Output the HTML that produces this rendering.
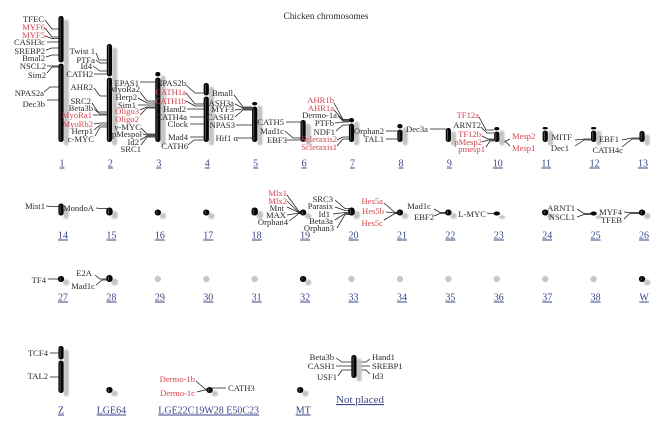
<!DOCTYPE html>
<html>
<head>
<meta charset="utf-8">
<title>Chicken chromosomes</title>
<style>
html,body{margin:0;padding:0;background:#fff;width:664px;height:425px;overflow:hidden}
svg{display:block;filter:blur(.3px)}
text{font-family:"Liberation Serif",serif}
</style>
</head>
<body>
<svg id="chart" width="664" height="425" viewBox="0 0 664 425" xmlns="http://www.w3.org/2000/svg">
<defs><filter id="soft" x="-100%" y="-100%" width="300%" height="300%"><feGaussianBlur stdDeviation="0.8"/></filter></defs>
<text x="326" y="19" text-anchor="middle" font-size="9.3" fill="#2a2a2a">Chicken chromosomes</text>
<text x="360" y="403" text-anchor="middle" font-size="11" fill="#3b4688" text-decoration="underline">Not placed</text>
</svg>
<script>
// Chromosome data (length and centromere in map units, from top of chromosome; 0 length = no mapped body)
var chromNames = ['1','2','3','4','5','6','7','8','9','10','11','12','13','14','15','16','17','18','19','20','21','22','23','24','25','26','27','28','29','30','31','32','33','34','35','36','37','38','W','Z','LGE64','LGE22C19W28 E50C23','MT','Not placed'];
var chromLength = [252,196,140,118,80,44,48,36,28,30,30,30,22,24,16,12,12,16,12,16,12,12,8,12,8,12,12,14,0,0,0,12,0,0,0,0,0,0,12,94,12,12,12,46];
var chromCentromere = [94,66,10,26,8,0,10,10,0,8,6,6,0,0,0,0,0,0,0,0,0,0,0,0,0,0,0,0,0,0,0,0,0,0,0,0,0,0,0,28,0,0,0,0];

// Gene data: name, chromosome, map position from top of chromosome
var geneNames = ['TFEC','MYF6','MYF5','CASH3c','SREBP2','Bmal2','NSCL2','Sim2','NPAS2a','Dec3b',
 'Twist 1','PTFa','Id4','CATH2','AHR2','SRC2','Beta3b','MyoRa1','MyoRb2','Herp1','c-MYC',
 'EPAS1','MyoRa2','Herp2','Sim1','Oligo3','Oligo2','v-MYC','pMespol','Id2','SRC1',
 'NPAS2b','CATH1a','CATH1b','Hand2','CATH4a','Clock','Mad4','CATH6',
 'Bmall','CASH3a','MYF3','CASH2','NPAS3','Hif1 α',
 'CATH5','Mad1c','EBF3',
 'AHR1b','AHR1a','Dermo-1a','PTFb','NDF1','Scleraxis2','Scleraxis1',
 'Orphan2','TAL1','Dec3a',
 'TF12a','ARNT2','TF12b','pMesp2','pmesp1','Mesp2','Mesp1',
 'MITF','Dec1','EBF1','CATH4c','Mist1','MondoA',
 'Mlx1','Mlx2','Mnt','MAX','Orphan4',
 'SRC3','Parasix','Id1','Beta3a','Orphan3',
 'Hes5a','Hes5b','Hes5c','Mad1c','EBF2','L-MYC','ARNT1','NSCL1','MYF4','TFEB',
 'TF4','E2A','Mad1c','TCF4','TAL2','Dermo-1b','Dermo-1c','CATH3',
 'Beta3b','CASH1','USF1','Hand1','SREBP1','Id3'];
var geneChrom = ['1','1','1','1','1','1','1','1','1','1',
 '2','2','2','2','2','2','2','2','2','2','2',
 '3','3','3','3','3','3','3','3','3','3',
 '4','4','4','4','4','4','4','4',
 '5','5','5','5','5','5',
 '6','6','6',
 '7','7','7','7','7','7','7',
 '8','8','9',
 '10','10','10','10','10','10','10',
 '12','12','13','13','14','15',
 '19','19','19','19','19',
 '20','20','20','20','20',
 '21','21','21','22','22','23','25','25','26','26',
 '27','28','28','Z','Z','LGE22C19W28 E50C23','LGE22C19W28 E50C23','LGE22C19W28 E50C23',
 'Not placed','Not placed','Not placed','Not placed','Not placed','Not placed'];
var genePosition = [26,42,45,52,64,78,100,102,142,168,
 32,38,54,60,104,136,140,142,158,162,166,
 20,58,62,66,70,72,124,126,128,130,
 20,42,46,52,68,82,108,114,
 10,12,14,16,46,72,
 4,36,40,
 3,4,6,8,14,38,42,
 14,30,2,
 6,12,24,26,28,28,30,
 24,26,14,16,6,2,
 4,6,6,7,8,
 2,6,10,12,14,
 6,7,8,6,8,4,4,6,6,8,
 6,8,10,14,62,4,6,2,
 14,22,30,14,22,30];
var highlightedGenes = ['MYF6','MYF5','MyoRa1','MyoRb2','Oligo3','Oligo2','CATH1a','CATH1b','AHR1b','AHR1a','Scleraxis2','Scleraxis1','TF12a','TF12b','pMesp2','pmesp1','Mesp2','Mesp1','Mlx1','Mlx2','Hes5a','Hes5b','Hes5c','Dermo-1b','Dermo-1c'];

// Annotation placement (separate from the data): label x, label y, anchor, leader start x, leader start y, leader elbow x
var labelPlacement = [
 [44,19,'e',45,20,52],[45,27,'e',45,28,52],[45,35,'e',45,36,52],[45,42,'e',47,42,52],[45,51,'e',46,50,52],[45,58,'e',46,57,52],[46,66,'e',47,66,52],[46,75,'e',47,73,52],[44,93,'e',44,92,50],[45,104,'e',47,100,52],
 [95,51,'e',96,53,99],[95,60,'e',96,60,100],[92,66,'e',93,66,100],[93,74,'e',94,74,100],[93,87,'e',94,88,100],[91,101,'e',92,103,98],[93,108,'e',94,109,100],[92,115,'e',93,115,100],[93,124,'e',94,124,100],[93,131,'e',94,130,100],[94,139,'e',95,136,100],
 [139,83,'e',140,82,147],[140,89,'e',140,92,147],[137,97,'e',138,98,147],[136,105,'e',138,105,147],[139,111,'e',140,110,147],[139,119,'e',140,115,147],[141,127,'e',141,128,147],[142,134,'e',143,134,147],[139,142,'e',140,140,147],[141,149,'e',141,145,147],
 [186,83,'e',186,85,195],[186,92,'e',186,93,195],[186,101,'e',186,101,195],[186,109,'e',187,109,195],[187,117,'e',190,117,195],[188,124,'e',190,124,195],[188,137,'e',190,137,195],[188,146,'e',188,145,194],
 [233,93,'e',234,95,243],[234,103,'e',235,104,243],[234,109,'e',235,110,243],[234,117,'e',235,117,243],[235,125,'e',236,125,243],[238,138,'e',238,138,243],
 [284,122,'e',286,122,293],[284,131,'e',285,131,293],[287,140,'e',287,140,293],
 [334,100,'e',334,103,343],[334,108,'e',334,110,343],[337,115,'e',338,116,343],[334,123,'e',335,123,343],[335,132,'e',336,131,343],[337,139,'e',337,140,343],[337,147,'e',337,146,343],
 [384,131,'e',386,131,390],[384,139,'e',386,139,390],[428,129,'e',430,129,436],
 [479,115,'e',479,117,486],[481,125,'e',481,127,487],[481,134,'e',482,136,488],[482,142,'e',482,142,488],[485,149,'e',486,147,490],
 [512,136,'s',510,139,506],[512,148,'s',510,146,506],
 [572,137,'e',575,140,585],[569,148,'e',575,146,584],[619,139,'e',622,140,632],[623,150,'e',622,147,632],
 [45,206,'e',46,206,52],[94,208,'e',96,208,100],
 [287,193,'e',287,195,299],[287,201,'e',287,201,299],[284,208,'e',287,207,299],[286,215,'e',287,215,299],[288,222,'e',289,221,299],
 [333,199,'e',335,200,345],[333,206,'e',335,207,345],[330,214,'e',333,214,345],[333,221,'e',335,220,345],[334,228,'e',337,228,345],
 [383,201,'e',384,203,395],[384,211,'e',386,212,395],[383,223,'e',384,220,395],
 [431,206,'e',434,209,440],[434,217,'e',434,216,440],[486,214,'e',487,213,490],[575,208,'e',577,209,584],[575,217,'e',577,217,584],[622,212,'e',624,212,630],[622,220,'e',624,219,630],
 [46,280,'e',48,279,52],[92,273,'e',95,275,100],[95,286,'e',96,285,102],[48,353,'e',50,353,54],[48,376,'e',50,377,54],
 [195,379,'e',196,381,205],[195,393,'e',197,392,205],[228,388,'s',226,388,220],
 [334,357,'e',336,358,342],[335,366,'e',336,366,342],[337,377,'e',338,376,342],[372,357,'s',370,359,366],[372,366,'s',370,366,366],[372,376,'s',370,374,366]
];

// Axis functions
var SVGNS = 'http://www.w3.org/2000/svg';
var svg = document.getElementById('chart');
var UNIT = 0.5;
var colStep = 48.42, colStart = 61;
var rowBase = [142, 215.5, 282, 393];
var rowTitleY = [166.5, 238.5, 300.5, 413.5];
function chromIndex(name){ return chromNames.indexOf(name); }
function chromRow(i){ return i < 13 ? 0 : i < 26 ? 1 : i < 39 ? 2 : 3; }
function chromX(i){
  if (i < 39) return colStart + (i % 13) * colStep;
  var lastRowCols = [0, 1, 3.07, 4.94, 6.05];
  return colStart + lastRowCols[i - 39] * colStep;
}
function chromBase(i){ return i === 43 ? 378 : rowBase[chromRow(i)]; }
function chromTop(i){ return chromBase(i) - chromLength[i] * UNIT; }
function mapY(i, pos){ return chromTop(i) + pos * UNIT; }
function make(tag, attrs, parent){
  var el = document.createElementNS(SVGNS, tag);
  for (var k in attrs) el.setAttribute(k, attrs[k]);
  (parent || svg).appendChild(el);
  return el;
}

// Layers: leaders under chromosomes, labels above them
var leaderLayer = make('g', {});


var chromLayer = make('g', {});


var labelLayer = make('g', {});



// Gene labels and leader lines
geneNames.forEach(function(name, g){
  var c = chromIndex(geneChrom[g]);
  var p = labelPlacement[g];
  var x = chromX(c);
  var y = mapY(c, genePosition[g]);
  var edge = p[3] < x ? x - 2.5 : x + 2.5;
  var isRed = highlightedGenes.indexOf(name) >= 0;
  var line = make('polyline', {points: p[3]+','+p[4]+' '+p[5]+','+y+' '+edge+','+y, fill:'none', stroke:'#1c1c1c', 'stroke-width':'0.75'}, leaderLayer);
  
  
  var t = make('text', {x:p[0], y:p[1]+2.8, 'font-size':'8.6', fill:isRed ? '#d3454f' : '#2b2b2b', 'text-anchor':p[2]==='e' ? 'end' : 'start'}, labelLayer);
  t.textContent = name;
  
  
});

// Chromosomes
chromNames.forEach(function(name, i){
  var x = chromX(i), base = chromBase(i), top = chromTop(i), len = chromLength[i];
  if (name !== 'Not placed') {
    var title = make('text', {x:x + (i < 13 ? 1 : i < 39 ? 2 : i === 39 ? 0 : i === 40 ? 2 : i === 42 ? 3 : -1), y:rowTitleY[chromRow(i)], 'text-anchor':'middle', 'font-size':'10', fill:'#3b4688', 'text-decoration':'underline'}, labelLayer);
    title.textContent = name;
    
    
  }
  var g = make('g', {}, chromLayer);
  
  
  if (len === 0) {
    var un = make('circle', {cx:x, cy:base - 3, r:3.2, fill:'#c8c8c8'}, g);
    
    
    return;
  }
  var w = len < 20 ? 6.4 : 5.2;
  var shadow = make('rect', {x:x + 5.2 - w / 2, y:top + 3.5, width:w, height:len * UNIT, rx:w / 2, fill:'#c4c4c4', filter:'url(#soft)'}, g);
  
  
  var cen = chromCentromere[i];
  var segments = cen > 0 ? [[top, mapY(i, cen) - 0.6], [mapY(i, cen) + 0.6, base]] : [[top, base]];
  segments.forEach(function(s){
    var arm = make('rect', {x:x - w / 2, y:s[0], width:w, height:s[1] - s[0], rx:w / 2 - 0.2, fill:'#060606'}, g);
    
    
    if (s[1] - s[0] > 5) {
      var core = make('rect', {x:x - 1.3, y:s[0] + 1.5, width:0.8, height:s[1] - s[0] - 3, fill:'#666'}, g);
      
      
    }
  });
});
</script>
</body>
</html>
